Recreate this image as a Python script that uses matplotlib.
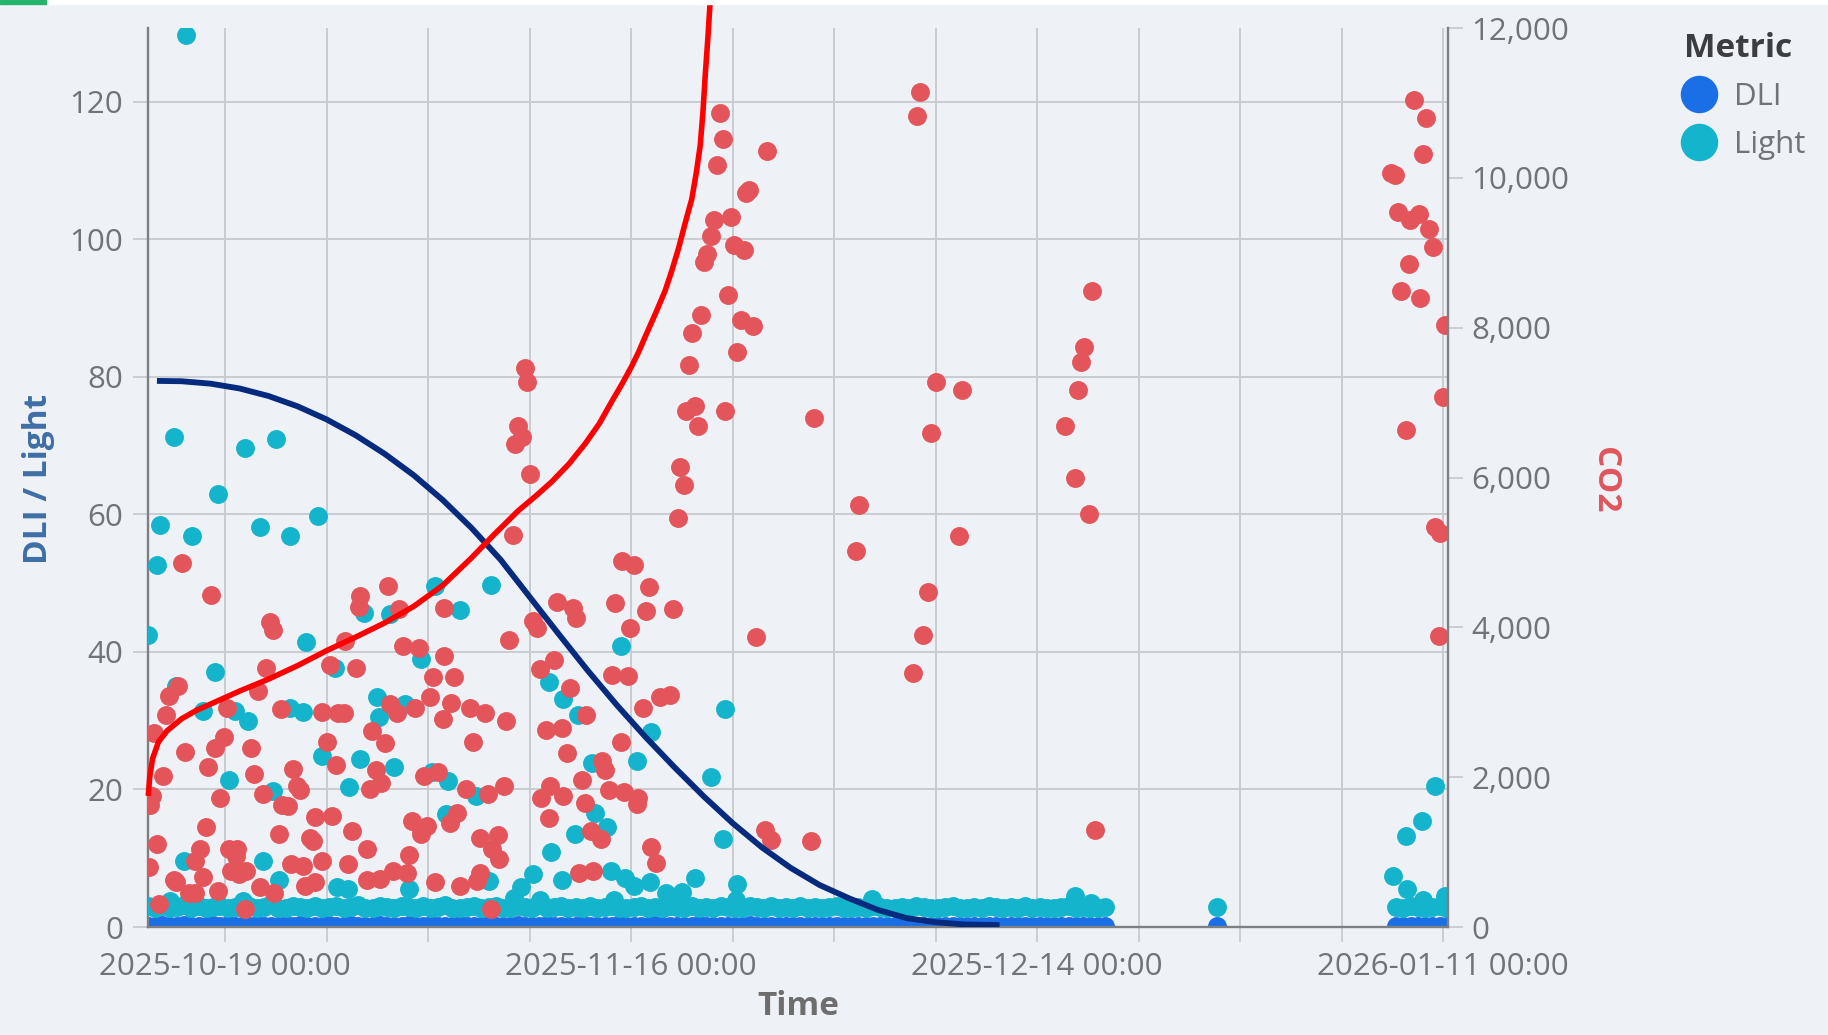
import matplotlib
matplotlib.use('Agg')
import matplotlib.pyplot as plt
import numpy as np
import pandas as pd
from matplotlib.lines import Line2D
from matplotlib.patches import Rectangle
from matplotlib.ticker import FuncFormatter

plt.rcParams['font.family'] = ['Open Sans', 'DejaVu Sans']

# all times are days since 2025-10-19 00:00
t0 = pd.Timestamp('2025-10-19 00:00')

# CO2 readings (day, ppm) - right axis
co2_points = [
    (-3.0, 4855), (-0.95, 4433), (3.1, 4067), (3.3, 3966), (9.3, 4416), (9.2, 4269), (11.2, 4553),
    (12.0, 4250), (15.1, 4260), (8.3, 3819), (12.3, 3745), (13.4, 3727), (15.1, 3617), (2.8, 3461),
    (7.2, 3498), (9.0, 3452), (14.35, 3342), (-3.25, 3222), (-3.85, 3084), (-4.05, 2827), (2.25, 3149),
    (0.15, 2928), (3.85, 2910), (6.7, 2873), (7.8, 2855), (8.2, 2855), (11.4, 2974), (11.85, 2855),
    (13.1, 2928), (14.1, 3066), (15.0, 2772), (-4.9, 2589), (10.15, 2616), (11.0, 2460), (-0.05, 2534),
    (-0.7, 2396), (-2.8, 2341), (1.8, 2396), (7.05, 2469), (-4.3, 2020), (-1.15, 2139), (2.0, 2047),
    (4.7, 2111), (7.65, 2157), (10.4, 2102), (10.75, 1919), (10.0, 1845), (13.7, 2020), (14.7, 2066),
    (4.95, 1882), (5.15, 1827), (-5.05, 1744), (-5.2, 1625), (-0.35, 1726), (2.6, 1772), (3.95, 1634),
    (4.35, 1616), (6.2, 1469), (7.4, 1487), (-1.35, 1340), (3.7, 1248), (8.75, 1285), (5.85, 1184),
    (6.05, 1148), (12.9, 1414), (13.5, 1313), (13.9, 1349), (13.5, 1239), (-4.7, 1111), (-1.75, 1047),
    (-2.05, 881), (0.3, 1037), (0.85, 1037), (0.75, 955), (9.75, 1047), (12.7, 964), (-5.25, 799),
    (-3.55, 633), (-3.4, 600), (-1.55, 670), (0.4, 753), (0.95, 707), (1.45, 753), (4.55, 845),
    (5.35, 817), (6.65, 881), (8.5, 845), (9.75, 624), (10.65, 643), (11.6, 753), (12.55, 725),
    (14.5, 597), (-2.5, 459), (-2.05, 459), (-0.5, 487), (2.4, 532), (3.4, 459), (5.5, 551),
    (6.2, 597), (-4.55, 303), (1.4, 239),
    (27.4, 4884), (28.2, 4829), (29.2, 4544), (22.9, 4342), (24.0, 4260), (24.2, 4131), (26.9, 4324),
    (29.0, 4223), (30.9, 4250), (27.9, 3993), (21.25, 4085), (21.5, 3993), (15.8, 3342), (19.6, 3828),
    (22.7, 3571), (21.7, 3443), (23.8, 3195), (26.7, 3360), (27.8, 3351), (15.6, 2993), (16.9, 2928),
    (17.9, 2855), (19.4, 2745), (17.1, 2469), (24.9, 2837), (22.1, 2635), (23.2, 2653), (27.3, 2469),
    (28.8, 2928), (30.0, 3066), (30.7, 3103), (23.6, 2323), (26.0, 2222), (26.2, 2102), (24.6, 1965),
    (22.4, 1882), (16.6, 1845), (18.1, 1772), (19.2, 1882), (21.8, 1726), (23.3, 1744), (26.5, 1836),
    (27.5, 1799), (28.5, 1717), (28.4, 1643), (24.8, 1662), (22.3, 1460), (16.0, 1524), (15.5, 1386),
    (17.6, 1193), (18.8, 1230), (18.4, 1037), (18.9, 909), (25.2, 1276), (25.9, 1175), (29.4, 1074),
    (29.7, 854), (24.4, 725), (25.4, 753), (16.2, 551), (17.4, 615), (17.6, 725), (18.3, 239),
    (36.6, 3870),
    (20.65, 7461), (20.85, 7269), (20.2, 6692), (20.45, 6541), (20.0, 6452), (21.05, 6052), (19.85, 5239),
    (34.1, 10868), (34.3, 10517), (33.9, 10170), (37.4, 10361), (36.1, 9838), (35.9, 9801), (33.7, 9438),
    (34.9, 9474), (33.5, 9228), (35.1, 9104), (35.8, 9038), (33.25, 8984), (33.0, 8882), (34.7, 8438),
    (32.8, 8171), (32.2, 7935), (35.6, 8105), (36.4, 8029), (35.3, 7674), (32.0, 7496), (31.75, 6882),
    (32.4, 6958), (32.6, 6683), (34.5, 6882), (31.4, 6141), (31.65, 5905), (31.2, 5461),
    (47.9, 11140), (47.7, 10824), (49.0, 7282), (50.8, 7162), (48.7, 6594), (50.6, 5216), (48.5, 4470),
    (48.1, 3896), (47.45, 3395), (43.7, 5639), (43.5, 5025), (40.6, 6794), (37.2, 1293), (37.65, 1164),
    (40.4, 1142), (59.8, 8491), (59.2, 7736), (59.0, 7549), (58.8, 7172), (57.9, 6683), (58.6, 5995),
    (59.6, 5519), (60.0, 1293),
    (82.0, 11040), (82.8, 10800), (82.6, 10320), (80.7, 10040), (80.4, 10060), (80.9, 9547), (82.3, 9520),
    (81.7, 9440), (83.0, 9320), (83.3, 9080), (81.6, 8850), (81.1, 8490), (82.4, 8400), (84.1, 8040),
    (84.0, 7080), (81.4, 6640), (83.4, 5345), (83.8, 5265), (83.7, 3880),
]

# Light readings above the baseline (day, value) - left axis
light_points = [
    (-2.7, 129.7), (-3.5, 71.2), (1.4, 69.6), (3.5, 71.0), (-0.5, 63.0), (-4.5, 58.4), (-2.3, 56.8),
    (2.4, 58.2), (4.5, 56.8), (6.4, 59.7), (-4.7, 52.7), (-5.3, 42.4), (5.6, 41.4), (-0.7, 37.1),
    (-3.4, 35.1), (-1.55, 31.4), (0.65, 31.4), (1.55, 30.0), (4.45, 31.9), (5.35, 31.2), (9.55, 45.7),
    (11.4, 45.5), (7.55, 37.7), (13.5, 38.9), (14.5, 49.6), (10.5, 33.4), (12.4, 32.5), (10.6, 30.5),
    (6.65, 24.8), (9.3, 24.4), (11.65, 23.3), (0.3, 21.4), (8.55, 20.3), (3.3, 19.8), (14.3, 22.5),
    (15.2, 16.4), (-2.85, 9.6), (2.6, 9.6), (3.7, 6.9), (7.7, 5.8), (8.5, 5.5), (12.7, 5.5), (1.2, 3.8),
    (-3.8, 3.8), (18.3, 49.7), (16.2, 46.1), (27.3, 40.8), (22.3, 35.6), (23.3, 33.1), (24.3, 30.9),
    (29.4, 28.4), (28.4, 24.1), (25.3, 23.9), (33.5, 21.8), (34.5, 31.7), (15.4, 21.3), (17.3, 19.1),
    (25.5, 16.6), (26.3, 14.5), (24.1, 13.5), (22.5, 10.9), (34.3, 12.8), (21.25, 7.7), (23.2, 6.9),
    (26.6, 8.2), (27.6, 7.1), (29.3, 6.6), (32.4, 7.1), (20.4, 5.8), (18.2, 6.7), (28.2, 5.9),
    (30.4, 4.9), (31.5, 5.1), (35.3, 6.2), (19.9, 4.2), (21.7, 4.0), (26.8, 3.9), (35.2, 4.0),
    (44.6, 4.1), (58.6, 4.5), (59.7, 3.5),
    (83.4, 20.5), (82.5, 15.4), (81.4, 13.2), (80.5, 7.4), (81.5, 5.5), (82.6, 4.0), (84.1, 4.5),
]

# continuous logging blocks (12 h readings) for Light baseline and DLI
block1_start, block1_end = '2025-10-12 16:00', '2025-12-18 16:00'
block2_time = '2025-12-26 10:00'
block3_start, block3_end = '2026-01-07 18:00', '2026-01-11 06:00'

light_block1 = [
    2.9, 2.7, 3.0, 2.8, 3.1, 2.7, 2.9, 3.2, 2.8, 3.0, 2.7, 2.9, 3.1, 2.8, 2.9,
    2.7, 3.0, 2.8, 2.9, 3.3, 2.8, 2.7, 3.0, 2.9, 2.8, 3.1, 2.7, 2.9, 3.0, 2.8,
    2.9, 3.2, 2.8, 2.7, 3.0, 2.9, 2.8, 3.1, 2.9, 2.7, 3.0, 2.8, 2.9, 3.2, 2.8,
    2.7, 2.9, 3.0, 2.8, 2.9, 3.1, 2.7, 2.8, 3.0, 2.9, 2.8, 3.2, 2.7, 2.9, 3.0,
    2.8, 2.9, 2.7, 3.0, 2.8, 2.9, 3.1, 2.8, 2.7, 2.9, 3.0, 2.8, 2.9, 2.7, 3.0,
    2.9, 2.8, 3.1, 2.7, 2.9, 2.8, 3.0, 2.9, 2.7, 2.8, 3.0, 2.9, 2.8, 3.1, 2.7,
    2.9, 2.8, 3.0, 2.7, 2.9, 2.8, 2.9, 3.0, 2.8, 2.7, 2.9, 2.8, 3.0, 2.9, 2.8,
    2.7, 2.9, 2.8, 3.0, 2.9, 2.7, 2.8, 2.9, 3.1, 2.8, 2.7, 2.9, 2.8, 3.0, 2.9,
    2.8, 2.9, 2.7, 3.0, 2.8, 2.9, 2.8, 2.7, 2.9, 3.0, 2.8, 2.9, 2.7, 2.8, 2.9,
]
dli_block1 = [
    0.2, 0.3, 0.1, 0.2, 0.3, 0.2, 0.1, 0.3, 0.2, 0.2, 0.1, 0.3, 0.2, 0.3, 0.2,
    0.1, 0.2, 0.3, 0.2, 0.1, 0.2, 0.3, 0.2, 0.3, 0.1, 0.2, 0.2, 0.3, 0.1, 0.2,
    0.3, 0.2, 0.1, 0.2, 0.3, 0.2, 0.2, 0.1, 0.3, 0.2, 0.2, 0.3, 0.1, 0.2, 0.2,
    0.3, 0.2, 0.1, 0.2, 0.3, 0.2, 0.1, 0.2, 0.3, 0.2, 0.2, 0.1, 0.3, 0.2, 0.2,
    0.1, 0.2, 0.3, 0.2, 0.1, 0.2, 0.2, 0.3, 0.1, 0.2, 0.2, 0.1, 0.3, 0.2, 0.2,
    0.2, 0.1, 0.2, 0.3, 0.2, 0.1, 0.2, 0.2, 0.1, 0.2, 0.3, 0.2, 0.1, 0.2, 0.2,
    0.1, 0.2, 0.2, 0.1, 0.2, 0.1, 0.2, 0.1, 0.2, 0.1, 0.1, 0.2, 0.1, 0.2, 0.1,
    0.1, 0.2, 0.1, 0.1, 0.2, 0.1, 0.1, 0.2, 0.1, 0.1, 0.2, 0.1, 0.1, 0.1, 0.2,
    0.1, 0.1, 0.2, 0.1, 0.1, 0.1, 0.2, 0.1, 0.1, 0.1, 0.2, 0.1, 0.1, 0.1, 0.1,
]
light_block2 = [2.9]
dli_block2 = [0.2]
light_block3 = [2.9, 2.8, 3.0, 2.9, 2.8, 2.9, 3.0, 2.8]
dli_block3 = [0.2, 0.1, 0.2, 0.2, 0.1, 0.2, 0.2, 0.1]

# drawn trend curves: CO2 (ppm) and DLI / Light
co2_trend = [
    (-5.3, 1750), (-5.2, 2000), (-5.0, 2250), (-4.6, 2470), (-4.0, 2620), (-3.0, 2780), (-2.0, 2890),
    (-0.5, 3020), (1.0, 3150), (3.0, 3310), (5.0, 3490), (7.0, 3690), (9.0, 3870), (11.0, 4060),
    (13.0, 4280), (15.0, 4560), (17.0, 4930), (18.5, 5230), (20.23, 5560), (21.4, 5750), (22.52, 5943),
    (23.7, 6180), (24.83, 6452), (25.8, 6720), (26.66, 7014), (27.4, 7260), (28.0, 7473), (28.5, 7670),
    (28.97, 7881), (29.7, 8200), (30.34, 8493), (30.8, 8760), (31.26, 9054), (31.7, 9380), (32.18, 9718),
    (32.5, 10080), (32.76, 10432), (32.95, 10880), (33.1, 11351), (33.3, 11900), (33.45, 12370),
]
light_trend = [
    (-4.7, 79.4), (-3.0, 79.35), (-1.0, 79.0), (1.0, 78.3), (3.0, 77.2), (5.0, 75.7), (7.0, 73.8),
    (9.0, 71.5), (11.0, 68.8), (13.0, 65.7), (15.0, 62.1), (17.0, 58.0), (19.0, 53.4), (21.0, 48.0),
    (23.0, 42.6), (25.0, 37.3), (27.0, 32.3), (29.0, 27.6), (31.0, 23.2), (33.0, 19.0), (35.0, 15.1),
    (37.0, 11.6), (39.0, 8.6), (41.0, 6.1), (43.0, 4.2), (45.0, 2.5), (47.0, 1.3), (49.0, 0.7),
    (51.0, 0.38), (53.4, 0.28),
]

week_ticks = ['2025-10-19', '2025-10-26', '2025-11-02', '2025-11-09', '2025-11-16', '2025-11-23',
              '2025-11-30', '2025-12-07', '2025-12-14', '2025-12-21', '2025-12-28', '2026-01-04', '2026-01-11']
week_labels = ['2025-10-19 00:00', '', '', '', '2025-11-16 00:00', '', '', '', '2025-12-14 00:00',
               '', '', '', '2026-01-11 00:00']
left_ticks = [0, 20, 40, 60, 80, 100, 120]
right_ticks = [0, 2000, 4000, 6000, 8000, 10000, 12000]


def to_time(days):
    return t0 + pd.to_timedelta(np.asarray(days, dtype=float), unit='D')


bg = '#eef1f6'
dli_color = '#1b6fe6'
light_color = '#14b4cc'
co2_color = '#e4545b'
grid_color = '#c8ccd1'
tick_text = '#6f7478'

fig = plt.figure(figsize=(18.28, 10.35), dpi=100, facecolor=bg)
ax = fig.add_axes([0.081, 0.1043, 0.7112, 0.8686])
ax.set_facecolor(bg)
ax2 = ax.twinx()

blocks_t = np.concatenate([
    pd.date_range(block1_start, block1_end, freq='12h').values,
    pd.DatetimeIndex([block2_time]).values,
    pd.date_range(block3_start, block3_end, freq='12h').values,
])
dli_vals = dli_block1 + dli_block2 + dli_block3
light_base = light_block1 + light_block2 + light_block3

ms = 185
ax.scatter(blocks_t, dli_vals, s=ms, color=dli_color, linewidths=0, zorder=2)
ax.scatter(blocks_t, light_base, s=ms, color=light_color, linewidths=0, zorder=3)
lp = np.array(light_points)
ax.scatter(to_time(lp[:, 0]), lp[:, 1], s=ms, color=light_color, linewidths=0, zorder=3)

cp = np.array(co2_points)
ax2.scatter(to_time(cp[:, 0]), cp[:, 1], s=ms, color=co2_color, linewidths=0, zorder=2)

lt = np.array(light_trend)
ax2.plot(to_time(lt[:, 0]), lt[:, 1], color='#062a7e', lw=4.2, transform=ax.transData,
         solid_capstyle='butt', solid_joinstyle='round', zorder=4)
ct = np.array(co2_trend)
ax2.plot(to_time(ct[:, 0]), ct[:, 1], color='#ff0000', lw=4.0, clip_on=False,
         solid_capstyle='butt', solid_joinstyle='round', zorder=5)

ax.set_xlim(pd.Timestamp('2025-10-13 16:30'), pd.Timestamp('2026-01-11 08:00'))
ax.set_ylim(0, 130.7)
ax2.set_ylim(0, 12000)

ax.set_xticks(pd.to_datetime(week_ticks))
ax.set_xticklabels(week_labels)
ax.set_yticks(left_ticks)
ax2.set_yticks(right_ticks)
ax2.yaxis.set_major_formatter(FuncFormatter(lambda v, p: f'{int(v):,}'))

ax.grid(True, color=grid_color, lw=1.4)
ax.set_axisbelow(True)

ax.tick_params(axis='both', length=10.8, width=1.3, color=grid_color, labelcolor=tick_text, labelsize=22.5)
ax.tick_params(axis='y', pad=7)
ax.tick_params(axis='x', pad=7.5)
ax2.tick_params(axis='y', length=10.8, width=1.3, color=grid_color, labelcolor=tick_text, labelsize=22.5, pad=6)

for a in (ax, ax2):
    a.spines['top'].set_visible(False)
ax.spines['right'].set_visible(False)
ax2.spines['left'].set_visible(False)
ax2.spines['bottom'].set_visible(False)
for s in (ax.spines['left'], ax.spines['bottom'], ax2.spines['right']):
    s.set_color('#7d7f82')
    s.set_linewidth(1.7)

fig.text(0.4365, 0.028, 'Time', ha='center', va='center', fontsize=24, fontweight='bold', color='#6e6e6e')
fig.text(0.021, 0.537, 'DLI / Light', ha='center', va='center', rotation=90, fontsize=24,
         fontweight='bold', color='#3d6ea6')
fig.text(0.8775, 0.536, 'CO2', ha='center', va='center', rotation=270, fontsize=24,
         fontweight='bold', color='#e0555c')

handles = [Line2D([], [], ls='', marker='o', markersize=27, markerfacecolor=dli_color, markeredgewidth=0),
           Line2D([], [], ls='', marker='o', markersize=27, markerfacecolor=light_color, markeredgewidth=0)]
leg = fig.legend(handles, ['DLI', 'Light'], title='Metric', loc='upper left', bbox_to_anchor=(0.9125, 0.984),
                 frameon=False, fontsize=22.5, labelcolor=tick_text, handlelength=1.0, handletextpad=0.6,
                 labelspacing=0.55, borderpad=0, alignment='left',
                 title_fontproperties={'weight': 'bold', 'size': 24})
leg.get_title().set_color('#3b3d40')

# white strip of the screenshot at the top
fig.add_artist(Rectangle((0, 1 - 4 / 1035), 1, 4 / 1035, transform=fig.transFigure, color='white', zorder=10))
fig.add_artist(Rectangle((0, 1 - 4 / 1035), 46 / 1828, 4 / 1035, transform=fig.transFigure,
                         color='#23b36a', zorder=11))

fig.savefig('out.png', dpi=100, facecolor=bg)
